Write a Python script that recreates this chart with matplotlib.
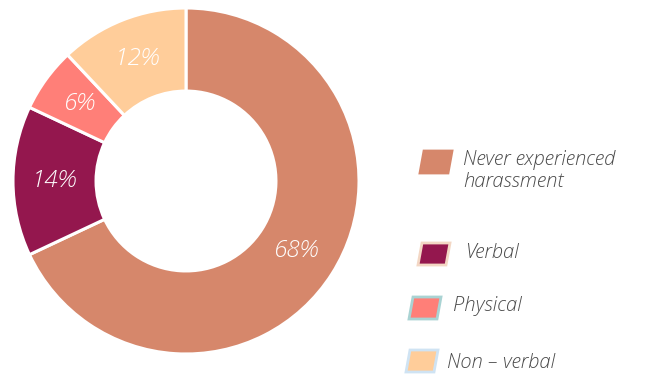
import matplotlib
matplotlib.use("Agg")
import matplotlib.pyplot as plt
from matplotlib.patches import Polygon

categories = ["Never experienced\nharassment", "Verbal", "Physical", "Non \u2013 verbal"]
shares = [68, 14, 6, 12]
colors = ["#D6876B", "#94174E", "#FF7F78", "#FFCD9A"]
edge_colors = ["#D6876B", "#F3D7C4", "#A9D3D3", "#CFE3F3"]

FONT = ["Open Sans", "DejaVu Sans"]

W, H = 652, 378
fig = plt.figure(figsize=(W / 100, H / 100), dpi=100)

# donut axes, laid out in pixel units
cx, cy, r = 186, 181, 173
ax = fig.add_axes([(cx - r) / W, (H - cy - r) / H, 2 * r / W, 2 * r / H])
wedges, _, autotexts = ax.pie(
    shares, colors=colors, startangle=90, counterclock=False,
    autopct=lambda p: f"{p:.0f}%", pctdistance=0.76, radius=1,
    wedgeprops=dict(width=0.48, edgecolor="white", linewidth=2.2),
    textprops=dict(color="white", fontsize=17.5, style="italic",
                   family=FONT, weight="light"),
)
ax.set_xlim(-1.0, 1.0)
ax.set_ylim(-1.0, 1.0)
ax.set_aspect("equal")
ax.axis("off")

# legend with slanted swatches
def fx(x):
    return x / W

def fy(y):
    return 1 - y / H

legend_rows = [  # swatch left x, swatch top y, text x, text y
    (420, 151, 463, 160),
    (418, 243, 465, 253),
    (409, 297, 453, 306),
    (406, 350, 447, 363),
]
sw, sh, skew = 28, 22, 4
text_kw = dict(fontsize=14.5, style="italic", family=FONT, weight="light",
               color="#4a4a4a", va="center")
for (x0, y0, tx, ty), label, fc, ec in zip(legend_rows, categories, colors, edge_colors):
    pts = [(x0, y0 + sh), (x0 + sw, y0 + sh), (x0 + sw + skew, y0), (x0 + skew, y0)]
    poly = Polygon([(fx(px), fy(py)) for px, py in pts], closed=True,
                   facecolor=fc, edgecolor=ec, linewidth=2.0,
                   transform=fig.transFigure, figure=fig)
    fig.patches.append(poly)
    for i, line in enumerate(label.split("\n")):
        fig.text(fx(tx), fy(ty + 22 * i), line, **text_kw)

fig.savefig("out.png", dpi=100)
